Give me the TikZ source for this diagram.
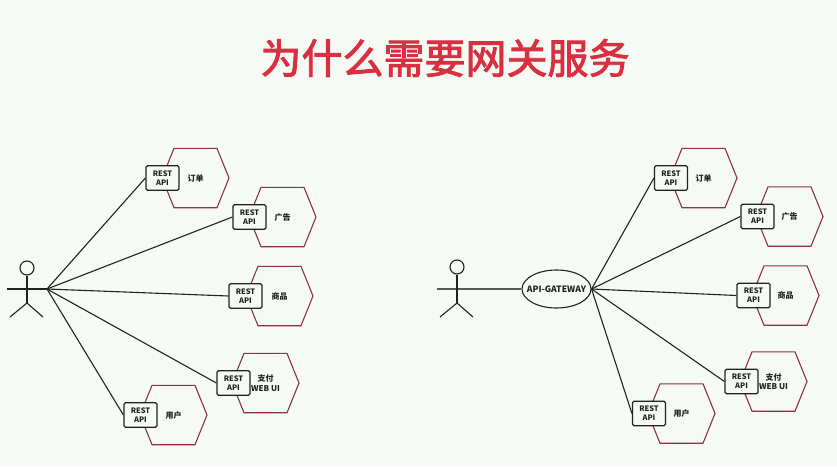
\documentclass[tikz,border=0pt]{standalone}
\usepackage{fontspec}
\setmainfont{Noto Sans CJK SC}
\newfontfamily\cjk{Noto Sans CJK SC}
\newfontfamily\titlefont[FakeBold=2.2]{Noto Sans CJK SC}
\usetikzlibrary{positioning,shapes.geometric}
\definecolor{paper}{HTML}{F5FAF5}
\definecolor{hexred}{HTML}{8E3048}
\definecolor{titlered}{HTML}{D92F40}
\definecolor{ink}{HTML}{222222}
\tikzset{
  link/.style={draw=ink,line width=1.1pt},
  hexline/.style={draw=hexred,line width=1.1pt},
  restbox/.style={draw=ink,fill=paper,line width=1.2pt,rounded corners=1.5pt,minimum width=33pt,minimum height=24.5pt,inner sep=0pt,align=center,text=ink,font=\fontsize{7.5}{9}\selectfont\bfseries},
  svclabel/.style={inner sep=0pt,align=center,text=ink,font=\fontsize{8}{9.5}\selectfont\cjk\bfseries},
}
\begin{document}
\begin{tikzpicture}[x=1pt,y=-1pt]
\fill[paper] (0,0) rectangle (837,466);
\useasboundingbox (0,0) rectangle (837,466);
\node[inner sep=0pt,text=titlered,font=\fontsize{41}{41}\selectfont\titlefont] (title) at (445,58) {为什么需要网关服务};
% left actor
\node[draw=ink,circle,line width=1.1pt,minimum size=14pt,inner sep=0pt] (lhead) at (27,268) {};
\coordinate (lhub) at (47,289);
\coordinate (larm) at (7,289);
\coordinate (lhip) at (27,303);
\coordinate (lfoota) at (10,317);
\coordinate (lfootb) at (43,317);
\draw[link] (larm) -- (lhub);
\draw[link] (lhead) -- (lhip);
\draw[link] (lfoota) -- (lhip) -- (lfootb);
% right actor
\node[draw=ink,circle,line width=1.1pt,minimum size=14pt,inner sep=0pt] (rhead) at (457,267) {};
\node[draw=ink,ellipse,line width=1.1pt,minimum width=69pt,minimum height=38pt,inner sep=0pt] (gateway) at (556.5,289) {};
\node[inner sep=0pt,text=ink,font=\fontsize{8.7}{9}\selectfont\bfseries] (gatewaytext) at (gateway.center) {API-GATEWAY};
\coordinate (rarm) at (437,289);
\coordinate (rhip) at (457,303);
\coordinate (rfoota) at (440,317);
\coordinate (rfootb) at (473,317);
\draw[draw=ink!75,line width=1.5pt] (rarm) -- (gateway);
\draw[link] (rhead) -- (rhip);
\draw[link] (rfoota) -- (rhip) -- (rfootb);
% services without the gateway
\foreach \nm/\bx/\by/\hx/\lab in {
  a/162.5/178/195.5/订单,
  b/249.5/217/282.5/广告,
  c/245.5/296/279.5/商品,
  d/233.5/383/265.5/{支付\\WEB UI},
  e/140.5/415/173.5/用户} {
  \draw[hexline,shift={(\hx,\by)}] (-33.5,0) -- (-21.5,-29.7) -- (21.5,-29.7) -- (33.5,0) -- (21.5,29.7) -- (-21.5,29.7) -- cycle;
  \node[restbox] (l\nm) at (\bx,\by) {REST\\API};
  \node[svclabel] (ltext\nm) at (\hx,\by) {\lab};
  \draw[link] (lhub) -- (l\nm.west);
}
% services behind the gateway
\foreach \nm/\bx/\by/\hx/\lab in {
  a/671/178/703.5/订单,
  b/757.5/216.5/789.5/广告,
  c/753.5/295.5/785.5/商品,
  d/741.5/381.5/773.5/{支付\\WEB UI},
  e/649/413.5/681.5/用户} {
  \draw[hexline,shift={(\hx,\by)}] (-33.5,0) -- (-21.5,-29.7) -- (21.5,-29.7) -- (33.5,0) -- (21.5,29.7) -- (-21.5,29.7) -- cycle;
  \node[restbox] (r\nm) at (\bx,\by) {REST\\API};
  \node[svclabel] (rtext\nm) at (\hx,\by) {\lab};
  \draw[link] (gateway.east) -- (r\nm.west);
}
\end{tikzpicture}
\end{document}
